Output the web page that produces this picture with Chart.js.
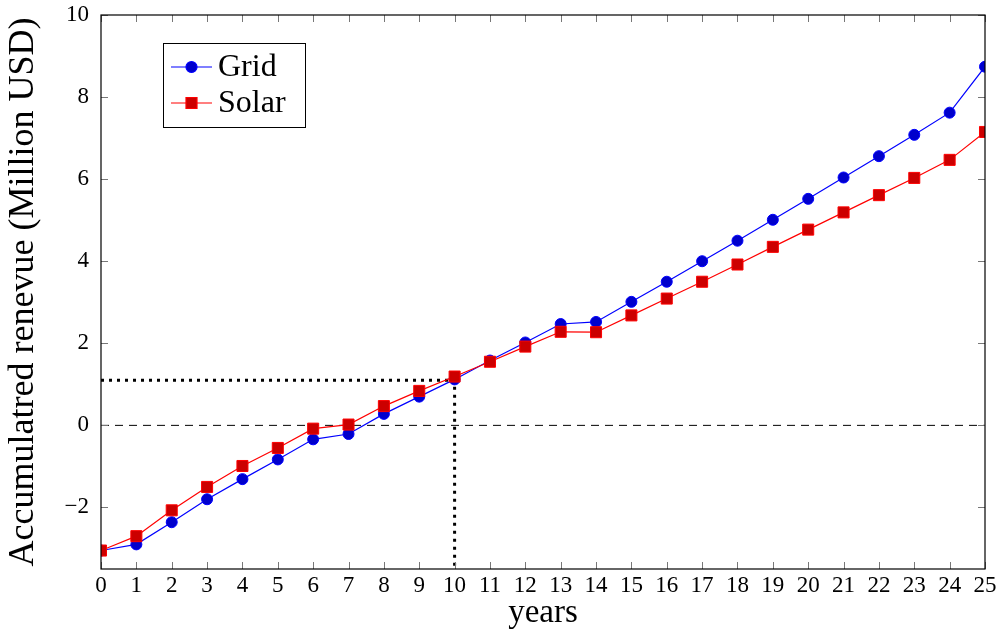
<!DOCTYPE html>
<html>
<head>
<meta charset="utf-8">
<script src="https://cdn.jsdelivr.net/npm/chart.js@4.4.0/dist/chart.umd.min.js"></script>
<style>
  html, body { margin: 0; padding: 0; background: #fff; }
  #wrap { width: 1001px; height: 633px; }
</style>
</head>
<body>
<div id="wrap"><canvas id="chart"></canvas></div>
<script>
// data
const years = [0, 1, 2, 3, 4, 5, 6, 7, 8, 9, 10, 11, 12, 13, 14, 15, 16, 17, 18, 19, 20, 21, 22, 23, 24, 25];
const gridRevenue = [-3.05, -2.90, -2.36, -1.80, -1.31, -0.83, -0.34, -0.21, 0.28, 0.70, 1.12, 1.58, 2.02, 2.47, 2.52, 3.01, 3.50, 4.00, 4.50, 5.01, 5.52, 6.04, 6.56, 7.08, 7.62, 8.74];
const solarRevenue = [-3.05, -2.70, -2.07, -1.50, -0.99, -0.55, -0.08, 0.02, 0.47, 0.84, 1.19, 1.55, 1.92, 2.28, 2.27, 2.68, 3.09, 3.50, 3.92, 4.35, 4.77, 5.19, 5.61, 6.03, 6.47, 7.15];
const breakEvenYear = 10;
const breakEvenValue = 1.1;
const yMin = -3.5;
const yMax = 10;

const FONT = "'Liberation Serif', 'DejaVu Serif', serif";

// pgfplots-style frame with inward ticks on all four sides
const framePlugin = {
  id: 'frame',
  afterDatasetsDraw(chart) {
    const { ctx, chartArea: a, scales } = chart;
    ctx.save();
    ctx.strokeStyle = '#777';
    ctx.lineWidth = 1;
    const len = 7;
    scales.x.ticks.forEach(t => {
      const px = Math.round(scales.x.getPixelForValue(t.value)) + 0.5;
      ctx.beginPath();
      ctx.moveTo(px, a.bottom); ctx.lineTo(px, a.bottom - len);
      ctx.moveTo(px, a.top); ctx.lineTo(px, a.top + len);
      ctx.stroke();
    });
    scales.y.ticks.forEach(t => {
      const py = Math.round(scales.y.getPixelForValue(t.value)) + 0.5;
      ctx.beginPath();
      ctx.moveTo(a.left, py); ctx.lineTo(a.left + len, py);
      ctx.moveTo(a.right, py); ctx.lineTo(a.right - len, py);
      ctx.stroke();
    });
    ctx.strokeStyle = '#000';
    ctx.lineWidth = 1.2;
    ctx.strokeRect(a.left, a.top, a.right - a.left, a.bottom - a.top);
    ctx.restore();
  }
};

// boxed legend in the upper left of the plot
const legendPlugin = {
  id: 'boxLegend',
  afterDraw(chart) {
    const { ctx, chartArea: a } = chart;
    const x0 = a.left + 62, y0 = a.top + 28, w = 142, h = 84;
    ctx.save();
    ctx.fillStyle = '#fff';
    ctx.fillRect(x0, y0, w, h);
    ctx.strokeStyle = '#000';
    ctx.lineWidth = 1;
    ctx.strokeRect(x0 + 0.5, y0 + 0.5, w, h);
    const items = chart.data.datasets.filter(d => d.inLegend);
    items.forEach((d, i) => {
      const cy = y0 + 24 + i * 36;
      ctx.strokeStyle = d.borderColor;
      ctx.lineWidth = 1.2;
      ctx.beginPath();
      ctx.moveTo(x0 + 8, cy); ctx.lineTo(x0 + 49, cy);
      ctx.stroke();
      ctx.fillStyle = d.pointBackgroundColor;
      ctx.strokeStyle = d.pointBorderColor;
      ctx.beginPath();
      if (d.pointStyle === 'rect') {
        ctx.rect(x0 + 28.5 - 5.5, cy - 5.5, 11, 11);
      } else {
        ctx.arc(x0 + 28.5, cy, 5.5, 0, Math.PI * 2);
      }
      ctx.fill();
      ctx.stroke();
      ctx.fillStyle = '#000';
      ctx.font = '32px ' + FONT;
      ctx.textBaseline = 'middle';
      ctx.fillText(d.label, x0 + 55, cy + 1);
    });
    ctx.restore();
  }
};

new Chart(document.getElementById('chart'), {
  type: 'line',
  data: {
    datasets: [
      {
        label: 'Grid',
        inLegend: true,
        data: years.map((x, i) => ({ x: x, y: gridRevenue[i] })),
        borderColor: '#0000ff',
        borderWidth: 1.2,
        pointStyle: 'circle',
        pointRadius: 5.5,
        pointBackgroundColor: '#0000cc',
        pointBorderColor: '#0000ff',
        pointBorderWidth: 1,
        order: 1
      },
      {
        label: 'Solar',
        inLegend: true,
        data: years.map((x, i) => ({ x: x, y: solarRevenue[i] })),
        borderColor: '#ff0000',
        borderWidth: 1.2,
        pointStyle: 'rect',
        pointRadius: 7.8,
        pointBackgroundColor: '#cc0000',
        pointBorderColor: '#ff0000',
        pointBorderWidth: 1,
        order: 0
      },
      {
        label: 'zero',
        data: [{ x: years[0], y: 0 }, { x: years[years.length - 1], y: 0 }],
        borderColor: '#000',
        borderWidth: 1,
        borderDash: [8, 6],
        pointRadius: 0,
        order: 5
      },
      {
        label: 'break-even',
        data: [{ x: years[0], y: breakEvenValue }, { x: breakEvenYear, y: breakEvenValue }, { x: breakEvenYear, y: yMin }],
        borderColor: '#000',
        borderWidth: 3,
        borderDash: [3, 5],
        pointRadius: 0,
        order: 4
      }
    ]
  },
  options: {
    responsive: true,
    maintainAspectRatio: false,
    animation: false,
    layout: { padding: { top: 15, right: 16, left: 0, bottom: 0 } },
    plugins: {
      legend: { display: false },
      tooltip: { enabled: false }
    },
    scales: {
      x: {
        type: 'linear',
        min: 0,
        max: 25,
        grid: { display: false, drawTicks: false },
        border: { display: false },
        ticks: {
          stepSize: 1,
          padding: 3,
          color: '#000',
          font: { family: FONT, size: 23 }
        },
        title: {
          display: true,
          text: 'years',
          color: '#000',
          font: { family: FONT, size: 33 },
          padding: { top: -4, bottom: 0 }
        },
        afterFit(scale) {
          scale.height = 64;
          scale.paddingLeft = 0;
          scale.paddingRight = 0;
        }
      },
      y: {
        min: yMin,
        max: yMax,
        grid: { display: false, drawTicks: false },
        border: { display: false },
        ticks: {
          stepSize: 2,
          includeBounds: false,
          padding: 12,
          color: '#000',
          font: { family: FONT, size: 23 },
          callback: v => (v < 0 ? '\u2212' + Math.abs(v) : String(v))
        },
        title: {
          display: true,
          text: 'Accumulatred renevue (Million USD)',
          color: '#000',
          font: { family: FONT, size: 36 },
          padding: { top: 2, bottom: 0 }
        },
        afterFit(scale) {
          scale.width = 101;
          scale.paddingTop = 0;
          scale.paddingBottom = 0;
        }
      }
    }
  },
  plugins: [framePlugin, legendPlugin]
});
</script>
</body>
</html>
